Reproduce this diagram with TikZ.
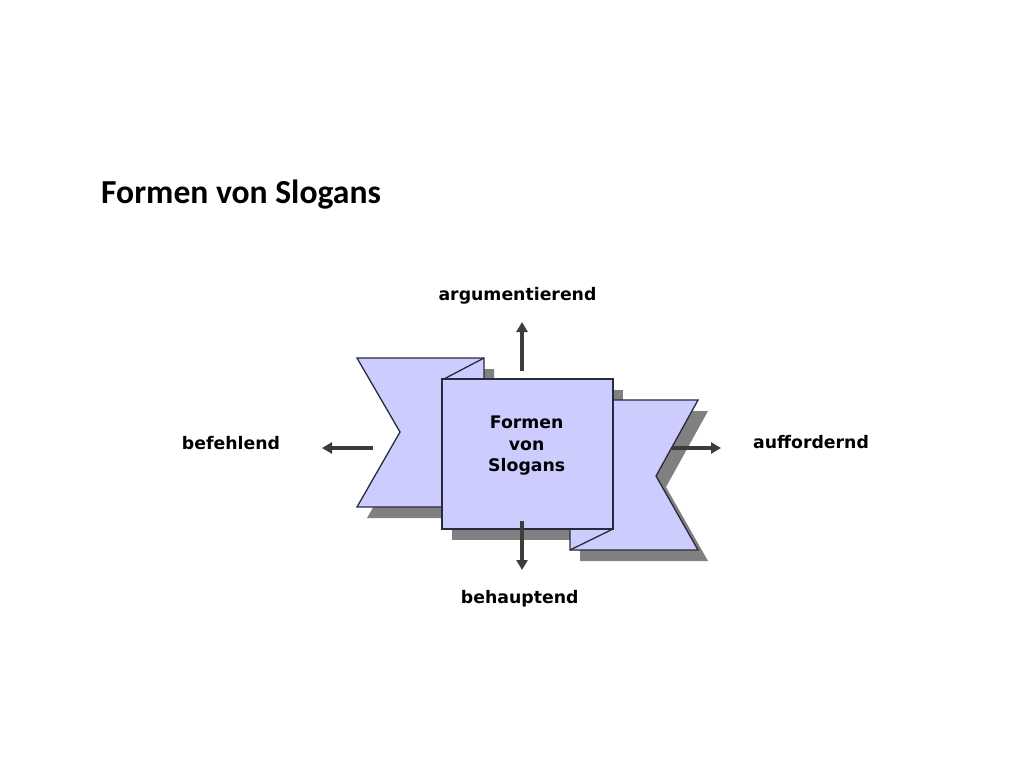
\documentclass[tikz,border=0pt]{standalone}
\usepackage{fontspec}
\usetikzlibrary{arrows.meta}
\newfontfamily\labfont{DejaVu Sans}
\newfontfamily\titlefont{Carlito}
\definecolor{bfill}{HTML}{CCCCFF}
\definecolor{shad}{HTML}{808080}
\definecolor{edgec}{HTML}{2A2A3C}
\definecolor{arrc}{HTML}{3C3C3C}
\begin{document}
\begin{tikzpicture}[x=1pt,y=-1pt,
  bannershape/.style={fill=bfill,draw=edgec,line width=1.3pt,line join=miter},
  shadowshape/.style={fill=shad},
  foldline/.style={draw=edgec,line width=1.3pt},
  arrowline/.style={draw=arrc,line width=3.5pt,-{Triangle[width=11pt,length=10pt]}},
  lab/.style={font=\labfont\bfseries\fontsize{17.3}{21.8}\selectfont,text=black,inner sep=0pt,anchor=base},
  ttl/.style={font=\titlefont\bfseries\fontsize{33.6}{40}\selectfont,text=black,inner sep=0pt,anchor=base west}
]
\fill[white] (0,0) rectangle (1024,768);
\useasboundingbox (0,0) rectangle (1024,768);

% title
\node[ttl] (title) at (101,203) {Formen von Slogans};

% shadows
\begin{scope}[shift={(10,11)}]
  \fill[shadowshape] (357,358) -- (484,358) -- (484,507) -- (357,507) -- (400,432) -- cycle;
  \fill[shadowshape] (570,400) -- (698,400) -- (656,476) -- (698,550) -- (570,550) -- cycle;
  \fill[shadowshape] (442,379) rectangle (613,529);
\end{scope}

% left banner
\draw[bannershape] (357,358) -- (484,358) -- (484,507) -- (357,507) -- (400,432) -- cycle;
\draw[foldline] (484,358) -- (442,380);
% right banner
\draw[bannershape] (570,400) -- (698,400) -- (656,476) -- (698,550) -- (570,550) -- cycle;
\draw[foldline] (570,550) -- (613,529);
% central square
\node[bannershape,minimum width=171pt,minimum height=150pt,inner sep=0pt] (sq) at (527.5,454) {};

% central text
\node[lab] (sqa) at (526.7,428.3) {Formen};
\node[lab] (sqb) at (526.7,450.0) {von};
\node[lab] (sqc) at (526.7,471.7) {Slogans};

% labels
\node[lab] (arg) at (517.5,300.7) {argumentierend};
\node[lab] (bef) at (231,449) {befehlend};
\node[lab] (auf) at (811,448.3) {auffordernd};
\node[lab] (beh) at (519.7,603.3) {behauptend};

% arrows
\coordinate (upS) at (522,371);
\coordinate (upE) at (522,322);
\coordinate (dnS) at (522,521);
\coordinate (dnE) at (522,570);
\coordinate (lfS) at (373,448);
\coordinate (lfE) at (322,448);
\coordinate (rtS) at (672,448);
\coordinate (rtE) at (721,448);
\draw[arrowline] (upS) -- (upE);
\draw[arrowline] (dnS) -- (dnE);
\draw[arrowline] (lfS) -- (lfE);
\draw[arrowline] (rtS) -- (rtE);
\end{tikzpicture}
\end{document}
